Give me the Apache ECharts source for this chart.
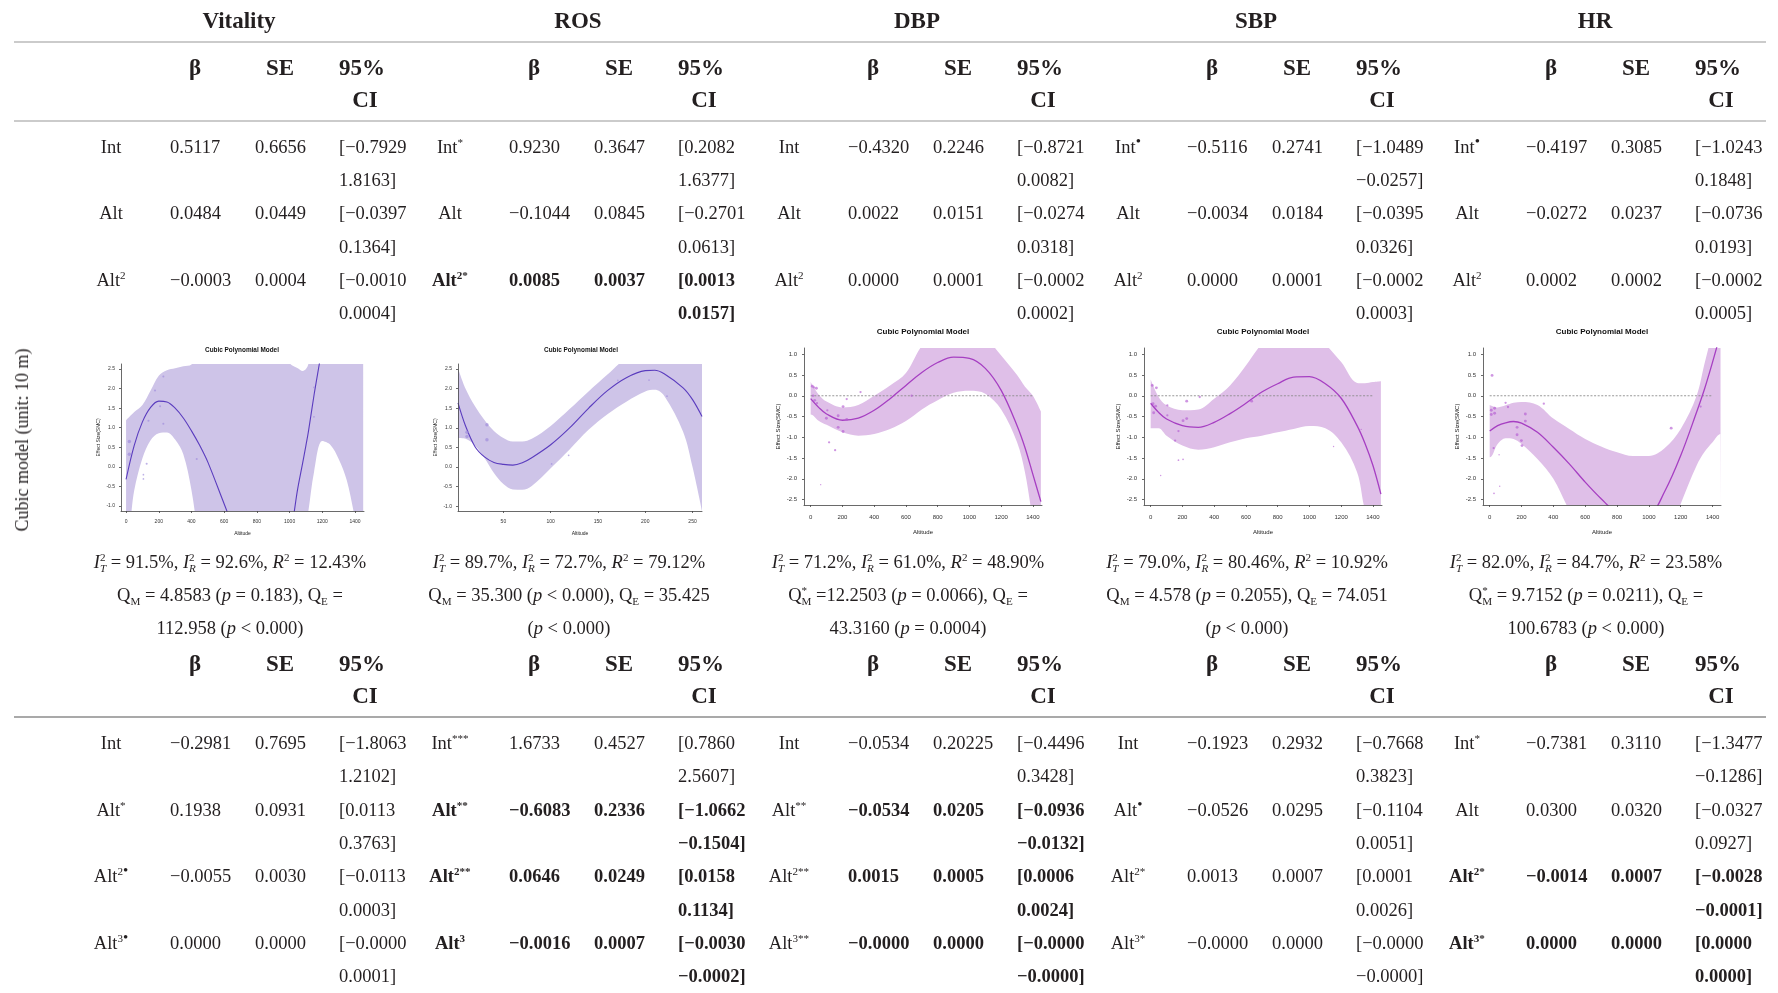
<!DOCTYPE html>
<html>
<head>
<meta charset="utf-8">
<title>Meta-regression of altitude: quadratic and cubic models</title>
<script src="https://cdn.jsdelivr.net/npm/echarts@6/dist/echarts.min.js"></script>
<style>
  html, body { margin: 0; padding: 0; background: #fff; }
  #page { position: relative; width: 1778px; height: 993px; overflow: hidden;
          font-family: 'Liberation Serif', 'Times New Roman', serif; color: #231f20; background: #fff; }
  #plots { position: absolute; left: 0; top: 0; width: 1778px; height: 993px; }
  .t { position: absolute; white-space: nowrap; line-height: 1; font-size: 18.5px; z-index: 5; }
  .b { font-weight: bold; }
  .hb { font-size: 23px; font-weight: bold; }
  .sp0 { font-size: 0.6em; position: relative; top: -0.62em; }
  .sp { font-size: 0.6em; position: relative; top: -0.62em; }
  .sb { font-size: 0.6em; position: relative; top: 0.35em; margin-left: -0.5em; }
  .sb0 { font-size: 0.6em; position: relative; top: 0.35em; }
  .bul { font-size: 1.35em; }
  .rule { position: absolute; left: 14px; width: 1752px; height: 2px; z-index: 4; }
</style>
</head>
<body>
<div id="page">
  <div id="plots"></div>
</div>
<script>
// ---------------- Table values ----------------
const groups = ['Vitality', 'ROS', 'DBP', 'SBP', 'HR'];

// row: [term, superscript, beta, SE, CI low, CI high, bold term, bold values]
const quadVitality = [
  ['Int', '',   '0.5117',  '0.6656', '[−0.7929', '1.8163]', 0, 0],
  ['Alt', '',   '0.0484',  '0.0449', '[−0.0397', '0.1364]', 0, 0],
  ['Alt', '2',  '−0.0003', '0.0004', '[−0.0010', '0.0004]', 0, 0]
];
const quadROS = [
  ['Int', '*',  '0.9230',  '0.3647', '[0.2082',  '1.6377]', 0, 0],
  ['Alt', '',   '−0.1044', '0.0845', '[−0.2701', '0.0613]', 0, 0],
  ['Alt', '2*', '0.0085',  '0.0037', '[0.0013',  '0.0157]', 1, 1]
];
const quadDBP = [
  ['Int', '',   '−0.4320', '0.2246', '[−0.8721', '0.0082]', 0, 0],
  ['Alt', '',   '0.0022',  '0.0151', '[−0.0274', '0.0318]', 0, 0],
  ['Alt', '2',  '0.0000',  '0.0001', '[−0.0002', '0.0002]', 0, 0]
];
const quadSBP = [
  ['Int', '•',  '−0.5116', '0.2741', '[−1.0489', '−0.0257]', 0, 0],
  ['Alt', '',   '−0.0034', '0.0184', '[−0.0395', '0.0326]', 0, 0],
  ['Alt', '2',  '0.0000',  '0.0001', '[−0.0002', '0.0003]', 0, 0]
];
const quadHR = [
  ['Int', '•',  '−0.4197', '0.3085', '[−1.0243', '0.1848]', 0, 0],
  ['Alt', '',   '−0.0272', '0.0237', '[−0.0736', '0.0193]', 0, 0],
  ['Alt', '2',  '0.0002',  '0.0002', '[−0.0002', '0.0005]', 0, 0]
];

const cubicVitality = [
  ['Int', '',    '−0.2981', '0.7695', '[−1.8063', '1.2102]', 0, 0],
  ['Alt', '*',   '0.1938',  '0.0931', '[0.0113',  '0.3763]', 0, 0],
  ['Alt', '2•',  '−0.0055', '0.0030', '[−0.0113', '0.0003]', 0, 0],
  ['Alt', '3•',  '0.0000',  '0.0000', '[−0.0000', '0.0001]', 0, 0]
];
const cubicROS = [
  ['Int', '***', '1.6733',  '0.4527', '[0.7860',  '2.5607]', 0, 0],
  ['Alt', '**',  '−0.6083', '0.2336', '[−1.0662', '−0.1504]', 1, 1],
  ['Alt', '2**', '0.0646',  '0.0249', '[0.0158',  '0.1134]', 1, 1],
  ['Alt', '3',   '−0.0016', '0.0007', '[−0.0030', '−0.0002]', 1, 1]
];
const cubicDBP = [
  ['Int', '',    '−0.0534', '0.20225', '[−0.4496', '0.3428]', 0, 0],
  ['Alt', '**',  '−0.0534', '0.0205',  '[−0.0936', '−0.0132]', 0, 1],
  ['Alt', '2**', '0.0015',  '0.0005',  '[0.0006',  '0.0024]', 0, 1],
  ['Alt', '3**', '−0.0000', '0.0000',  '[−0.0000', '−0.0000]', 0, 1]
];
const cubicSBP = [
  ['Int', '',    '−0.1923', '0.2932', '[−0.7668', '0.3823]', 0, 0],
  ['Alt', '•',   '−0.0526', '0.0295', '[−0.1104', '0.0051]', 0, 0],
  ['Alt', '2*',  '0.0013',  '0.0007', '[0.0001',  '0.0026]', 0, 0],
  ['Alt', '3*',  '−0.0000', '0.0000', '[−0.0000', '−0.0000]', 0, 0]
];
const cubicHR = [
  ['Int', '*',   '−0.7381', '0.3110', '[−1.3477', '−0.1286]', 0, 0],
  ['Alt', '',    '0.0300',  '0.0320', '[−0.0327', '0.0927]', 0, 0],
  ['Alt', '2*',  '−0.0014', '0.0007', '[−0.0028', '−0.0001]', 1, 1],
  ['Alt', '3*',  '0.0000',  '0.0000', '[0.0000',  '0.0000]', 1, 1]
];

// heterogeneity: I²T, I²R, R² (%)
const statsI2 = [
  ['91.5', '92.6', '12.43'],
  ['89.7', '72.7', '79.12'],
  ['71.2', '61.0', '48.90'],
  ['79.0', '80.46', '10.92'],
  ['82.0', '84.7', '23.58']
];
// moderator / residual tests, as printed over two lines
const statsQ = [
  ['Q_M = 4.8583 (p = 0.183), Q_E =', '112.958 (p < 0.000)'],
  ['Q_M = 35.300 (p < 0.000), Q_E = 35.425', '(p < 0.000)'],
  ['Q*_M =12.2503 (p = 0.0066), Q_E =', '43.3160 (p = 0.0004)'],
  ['Q_M = 4.578 (p = 0.2055), Q_E = 74.051', '(p < 0.000)'],
  ['Q*_M = 9.7152 (p = 0.0211), Q_E =', '100.6783 (p < 0.000)']
];

// ---------------- Cubic fit curves (altitude in m) ----------------
const altTicks = [0, 200, 400, 600, 800, 1000, 1200, 1400];
const rosTicks = [50, 100, 150, 200, 250];
const effTicks = [-2.5, -2, -1.5, -1, -0.5, 0, 0.5, 1];
const areaTicks = [-1, -0.5, 0, 0.5, 1, 1.5, 2, 2.5];
const zeroLine = [[0, 0], [1400, 0]];

const vitAlt   = [0, 50, 100, 150, 200, 250, 300, 350, 400, 450, 500, 600, 700, 800, 900, 1000, 1050, 1080, 1100, 1115, 1150, 1200, 1250, 1300, 1350, 1400, 1450];
const vitFit   = [-0.32, 0.55, 1.15, 1.52, 1.68, 1.66, 1.50, 1.25, 0.92, 0.55, 0.12, -0.95, -2.0, -2.7, -2.8, -1.75, -0.55, 0.1, 0.55, 0.9, 1.85, 3.1, 4.6, 6.3, 8.3, 10.5, 13];
const vitUpper = [1.19, 1.40, 1.58, 1.95, 2.33, 2.47, 2.52, 2.57, 2.62, 2.9, 3.3, 3.8, 4.0, 4.1, 3.9, 2.66, 2.52, 2.45, 2.5, 2.63, 3.3, 5.0, 6.5, 8.2, 10.2, 12.5, 15];
const vitLower = [-1.9, -0.6, 0.22, 0.68, 0.86, 0.88, 0.70, 0.32, -0.6, -2.0, -2.9, -3.6, -4.2, -4.5, -4.3, -3.4, -2.5, -1.9, -1.5, -1.13, -0.12, 0.66, 0.56, 0.2, -0.35, -1.3, -2.1];
const vitPoints = [[20, 0.65, 3], [20, 0.32, 3], [106, -0.2, 1.5], [106, -0.31, 1.5], [126, 0.08, 1.8], [137, 1.18, 1.8],
  [177, 1.95, 1.8], [228, 2.31, 1.8], [208, 1.55, 1.8], [228, 1.1, 1.8], [432, 0.2, 1.8], [1149, 2.03, 1.5], [1149, 1.28, 1.5]];

const rosAlt   = [2, 10, 20, 30, 40, 50, 60, 70, 80, 100, 120, 140, 160, 180, 200, 210, 220, 240, 250, 260];
const rosFit   = [1.64, 1.05, 0.52, 0.26, 0.12, 0.07, 0.05, 0.11, 0.24, 0.57, 1.0, 1.5, 1.95, 2.28, 2.46, 2.47, 2.38, 2.02, 1.72, 1.29];
const rosUpper = [2.52, 2.0, 1.55, 1.2, 0.92, 0.74, 0.65, 0.65, 0.72, 1.05, 1.48, 1.93, 2.36, 2.78, 3.0, 3.05, 3.1, 3.3, 3.45, 3.6];
const rosLower = [0.74, 0.72, 0.55, 0.23, -0.15, -0.43, -0.57, -0.58, -0.48, -0.03, 0.45, 0.95, 1.35, 1.67, 1.93, 1.97, 1.82, 0.9, 0.0, -1.12];
const rosPoints = [[11.5, 0.89, 3], [11.5, 0.78, 3], [32.6, 1.08, 3], [32.6, 0.70, 3], [101, 0.08, 1.5], [119, 0.30, 1.5],
  [171, 2.21, 1.5], [204, 2.22, 1.5], [223, 1.81, 1.5]];

const dbpAlt   = [0, 50, 100, 200, 300, 400, 500, 600, 700, 800, 900, 1000, 1100, 1200, 1300, 1350, 1400, 1450];
const dbpFit   = [-0.07, -0.28, -0.44, -0.59, -0.54, -0.35, -0.07, 0.25, 0.56, 0.80, 0.93, 0.90, 0.66, 0.13, -0.72, -1.25, -1.90, -2.55];
const dbpUpper = [0.33, 0.03, -0.14, -0.28, -0.22, 0.0, 0.25, 0.55, 1.2, 1.55, 1.70, 1.65, 1.40, 0.97, 0.50, 0.22, 0.0, -0.38];
const dbpLower = [-0.45, -0.60, -0.70, -0.88, -0.96, -0.92, -0.80, -0.61, -0.33, -0.11, 0.07, 0.12, 0.05, -0.33, -1.12, -1.85, -3.0, -4.0];
const dbpPoints = [[10.5, 0.23, 2.5], [21, 0.20, 2], [36, 0.18, 2.5], [15, 0.0, 2], [25, -0.11, 2.5], [40, -0.18, 2],
  [105, -0.35, 2], [99, -0.54, 2.5], [173, -0.48, 2.5], [173, -0.76, 2.5], [204, -0.26, 2.5], [204, -0.86, 2.5],
  [227, -0.08, 2], [227, -0.57, 2.5], [116, -1.12, 2], [154, -1.31, 2], [63, -2.14, 1.2], [314, 0.09, 2], [636, 0.0, 2]];

const sbpAlt   = [0, 50, 100, 200, 300, 400, 500, 600, 700, 800, 900, 1000, 1100, 1200, 1300, 1350, 1400, 1450];
const sbpFit   = [-0.18, -0.40, -0.56, -0.72, -0.76, -0.64, -0.43, -0.18, 0.09, 0.29, 0.45, 0.46, 0.29, -0.06, -0.72, -1.15, -1.68, -2.37];
const sbpUpper = [0.39, -0.03, -0.23, -0.35, -0.33, -0.07, 0.25, 0.73, 1.25, 1.6, 1.75, 1.7, 1.25, 0.81, 0.31, 0.30, 0.33, 0.35];
const sbpLower = [-0.78, -0.78, -0.96, -1.2, -1.30, -1.24, -1.12, -1.02, -0.96, -0.88, -0.80, -0.73, -0.78, -1.12, -1.84, -2.75, -3.2, -3.8];
const sbpPoints = [[10, 0.25, 2.5], [36, 0.19, 2.5], [15, -0.19, 2.5], [31, -0.25, 2.5], [19, -0.41, 2.5], [105, -0.23, 2],
  [105, -0.47, 2], [154, -1.08, 2], [175, -0.85, 2], [204, -0.60, 2.5], [227, -0.13, 2.5], [227, -0.55, 2.5],
  [175, -1.55, 1.5], [204, -1.53, 1.5], [63, -1.92, 1.2], [309, -0.03, 2], [636, -0.13, 2.5], [1152, -1.22, 1.2], [1326, -0.81, 1.2]];

const hrAlt   = [0, 50, 100, 150, 200, 300, 400, 500, 600, 700, 800, 900, 1000, 1100, 1200, 1300, 1350, 1400, 1450];
const hrFit   = [-0.85, -0.72, -0.65, -0.62, -0.66, -0.88, -1.24, -1.64, -2.08, -2.48, -2.82, -2.95, -2.9, -2.3, -1.44, -0.39, 0.17, 0.81, 1.5];
const hrUpper = [-0.22, -0.28, -0.23, -0.17, -0.15, -0.22, -0.55, -0.80, -1.04, -1.22, -1.36, -1.45, -1.45, -1.26, -0.8, 0.0, 0.78, 1.5, 2.0];
const hrLower = [-1.48, -1.16, -1.02, -1.04, -1.16, -1.52, -2.0, -2.75, -3.3, -3.8, -4.2, -4.3, -4.2, -3.6, -2.6, -1.68, -1.35, -1.12, -0.92];
const hrPoints = [[15, 0.49, 2.5], [10, -0.35, 2.5], [10, -0.45, 2.5], [31, -0.30, 2.5], [31, -0.42, 2.5], [100, -0.17, 2],
  [115, -0.27, 2], [172, -0.76, 2.5], [172, -0.94, 2.5], [199, -1.08, 2.5], [203, -1.2, 2.5], [224, -0.44, 2.5],
  [224, -0.61, 2.5], [25, -1.26, 2], [59, -1.42, 1.2], [63, -2.18, 1.2], [27, -2.35, 1.5], [340, -0.19, 2],
  [1140, -0.78, 2.5], [1325, -0.26, 2]];

// ---------------- Table layout ----------------
const page = document.getElementById('page');
const colStep = 339, firstLabel = 111;

function put(html, x, y, cls, align, extra) {
  const d = document.createElement('div');
  d.className = 't ' + (cls || '');
  d.innerHTML = html;
  d.style.left = x + 'px';
  d.style.top = y + 'px';
  d.style.transform = (align === 'c' ? 'translate(-50%,-50%)' : 'translate(0,-50%)') + (extra || '');
  page.appendChild(d);
  return d;
}
function rule(y, color) {
  const d = document.createElement('div');
  d.className = 'rule';
  d.style.top = (y - 1) + 'px';
  d.style.background = color;
  page.appendChild(d);
}

groups.forEach((g, i) => put(g, firstLabel + colStep * i + 128, 20, 'hb', 'c'));
rule(42, '#cbcbcb');
rule(121, '#cbcbcb');
rule(717, '#a9a9a9');

function header(y1, y2) {
  groups.forEach((g, i) => {
    const L = firstLabel + colStep * i;
    put('β', L + 84, y1, 'hb', 'c');
    put('SE', L + 169, y1, 'hb', 'c');
    put('95%', L + 228, y1, 'hb', 'l');
    put('CI', L + 254, y2, 'hb', 'c');
  });
}
header(66.5, 98.5);
header(663, 695);

function supMark(s) {
  return s ? '<span class="sp0">' + s.replace('•', '<span class="bul">•</span>') + '</span>' : '';
}
function block(list, y0, step) {
  list.forEach((rows, g) => {
    const L = firstLabel + colStep * g;
    rows.forEach((r, k) => {
      const [term, sup, beta, se, lo, hi, bt, bv] = r;
      const y1 = y0 + 2 * step * k, y2 = y1 + step;
      const vc = bv ? 'b' : '';
      put(term + supMark(sup), L, y1, bt ? 'b' : '', 'c');
      put(beta, L + 59, y1, vc, 'l');
      put(se, L + 144, y1, vc, 'l');
      put(lo, L + 228, y1, vc, 'l');
      put(hi, L + 228, y2, vc, 'l');
    });
  });
}
block([quadVitality, quadROS, quadDBP, quadSBP, quadHR], 146.7, 33.3);
block([cubicVitality, cubicROS, cubicDBP, cubicSBP, cubicHR], 743, 33.3);

function fmtQ(s) {
  return s.replace(/\(p/g, '(<i>p</i>')
    .replace(/Q\*_M/g, 'Q<span class="sp">*</span><span class="sb">M</span>')
    .replace(/Q_([ME])/g, 'Q<span class="sb0">$1</span>');
}
statsI2.forEach((s, i) => {
  const cx = firstLabel + colStep * i + 119;
  const i2 = sub => '<i>I</i><span class="sp">2</span><span class="sb"><i>' + sub + '</i></span>';
  put(i2('T') + ' = ' + s[0] + '%, ' + i2('R') + ' = ' + s[1] + '%, <i>R</i><span class="sp0">2</span> = ' + s[2] + '%', cx, 562, '', 'c');
  put(fmtQ(statsQ[i][0]), cx, 595, '', 'c');
  put(fmtQ(statsQ[i][1]), cx, 628, '', 'c');
});

put('Cubic model (unit: 10 m)', 22, 440, '', 'c', ' rotate(-90deg)').style.fontSize = '18px';

// ---------------- Mini charts ----------------
const palettes = {
  lavender: { band: '#cec4e8', line: '#5a3cbe', point: 'rgba(160,140,220,0.85)', lw: 1.1 },
  orchid:   { band: '#dfbfe8', line: '#a63fc2', point: 'rgba(180,90,210,0.8)', lw: 1.3 }
};
const panels = [
  { alt: vitAlt, fit: vitFit, upper: vitUpper, lower: vitLower, pts: vitPoints, xr: [-31, 1455], xt: altTicks, yr: [-1.13, 2.63], yt: areaTicks, pal: 'lavender', ref: false,
    box: [121, 364, 243, 147], title: [242, 351], ts: 6.4, fs: 5, xm: 8.5, ym: 6, xg: 20.5, yg: 20 },
  { alt: rosAlt, fit: rosFit, upper: rosUpper, lower: rosLower, pts: rosPoints, xr: [2, 260], xt: rosTicks, yr: [-1.12, 2.63], yt: areaTicks, pal: 'lavender', ref: false,
    box: [458, 364, 244, 147], title: [581, 351], ts: 6.4, fs: 5, xm: 8.5, ym: 6, xg: 20.5, yg: 20 },
  { alt: dbpAlt, fit: dbpFit, upper: dbpUpper, lower: dbpLower, pts: dbpPoints, xr: [-42, 1457], xt: altTicks, yr: [-2.63, 1.15], yt: effTicks, pal: 'orchid', ref: true,
    box: [804, 348, 238, 157], title: [923, 333], ts: 8, fs: 6, xm: 9, ym: 7, xg: 24, yg: 23 },
  { alt: sbpAlt, fit: sbpFit, upper: sbpUpper, lower: sbpLower, pts: sbpPoints, xr: [-42, 1457], xt: altTicks, yr: [-2.63, 1.15], yt: effTicks, pal: 'orchid', ref: true,
    box: [1144, 348, 238, 157], title: [1263, 333], ts: 8, fs: 6, xm: 9, ym: 7, xg: 24, yg: 23 },
  { alt: hrAlt, fit: hrFit, upper: hrUpper, lower: hrLower, pts: hrPoints, xr: [-42, 1453], xt: altTicks, yr: [-2.63, 1.15], yt: effTicks, pal: 'orchid', ref: true,
    box: [1483, 348, 238, 157], title: [1602, 333], ts: 8, fs: 6, xm: 9, ym: 7, xg: 24, yg: 23 }
];

const sans = "'Liberation Sans', Arial, sans-serif";
const option = { animation: false, title: [], grid: [], xAxis: [], yAxis: [], series: [] };

panels.forEach((p, i) => {
  const pal = palettes[p.pal];
  option.title.push({
    text: 'Cubic Polynomial Model', left: p.title[0], top: p.title[1] - p.ts / 2 - 1, textAlign: 'center', padding: 0,
    textStyle: { fontSize: p.ts, fontWeight: 'bold', color: '#111', fontFamily: sans }
  });
  option.grid.push({ left: p.box[0], top: p.box[1], width: p.box[2], height: p.box[3] });
  const axisCommon = {
    gridIndex: i, type: 'value', z: 10,
    nameLocation: 'middle', nameTextStyle: { fontSize: p.fs, color: '#222', fontFamily: sans },
    axisLine: { show: true, onZero: false, lineStyle: { color: '#444', width: 0.8 } },
    splitLine: { show: false }
  };
  option.xAxis.push(Object.assign({}, axisCommon, {
    min: p.xr[0], max: p.xr[1], name: 'Altitude', nameGap: p.xg,
    axisTick: { show: true, length: 2, customValues: p.xt, lineStyle: { color: '#444', width: 0.8 } },
    axisLabel: { customValues: p.xt, fontSize: p.fs, color: '#333', margin: p.xm, fontFamily: sans,
                 formatter: v => String(v) }
  }));
  option.yAxis.push(Object.assign({}, axisCommon, {
    min: p.yr[0], max: p.yr[1], name: 'Effect Size(SMC)', nameGap: p.yg,
    axisTick: { show: true, length: 2, customValues: p.yt, lineStyle: { color: '#444', width: 0.8 } },
    axisLabel: { customValues: p.yt, fontSize: p.fs, color: '#333', margin: p.ym, fontFamily: sans,
                 formatter: v => v.toFixed(1) }
  }));
  const pairs = vals => p.alt.map((x, k) => [x, vals[k]]);
  const line = (data, extra) => Object.assign({
    type: 'line', xAxisIndex: i, yAxisIndex: i, symbol: 'none', smooth: 0.35, silent: true, data
  }, extra);
  // confidence band: upper curve filled down to the axis, then cleared below the lower curve
  // (the clearing area is carried out to both axis ends so no sliver of band shows at the edges)
  const lowerData = [[p.xr[0], p.lower[0]]].concat(pairs(p.lower), [[p.xr[1], p.lower[p.lower.length - 1]]]);
  option.series.push(line(pairs(p.upper), { z: 1, lineStyle: { width: 0 }, areaStyle: { color: pal.band, opacity: 1, origin: 'start' } }));
  option.series.push(line(lowerData, { z: 2, lineStyle: { width: 0 }, areaStyle: { color: '#ffffff', opacity: 1, origin: 'start' } }));
  if (p.ref) {
    option.series.push({
      type: 'line', xAxisIndex: i, yAxisIndex: i, symbol: 'none', silent: true, z: 3, data: zeroLine,
      lineStyle: { color: '#8c8c8c', width: 0.9, type: [2, 1.6] }
    });
  }
  option.series.push(line(pairs(p.fit), { z: 4, lineStyle: { color: pal.line, width: pal.lw } }));
  option.series.push({
    type: 'scatter', xAxisIndex: i, yAxisIndex: i, silent: true, z: 5, data: p.pts,
    symbolSize: d => d[2] * 1.15, itemStyle: { color: pal.point }
  });
});

const chart = echarts.init(document.getElementById('plots'), null, { renderer: 'canvas' });
chart.setOption(option);
</script>
</body>
</html>
